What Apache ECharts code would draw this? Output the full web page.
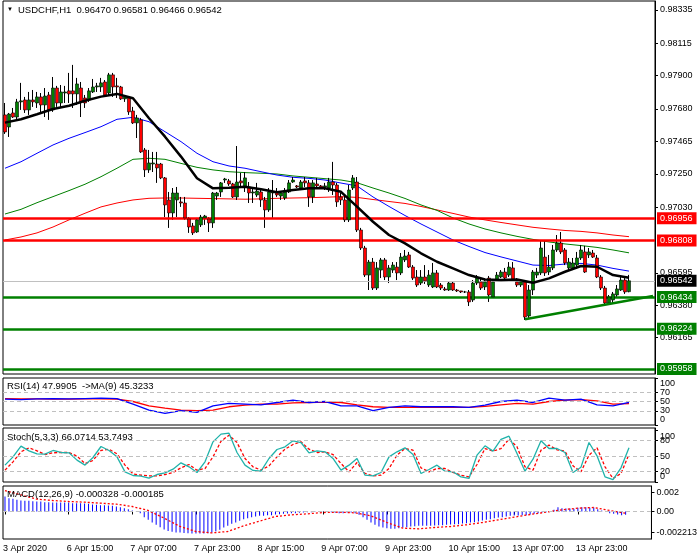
<!DOCTYPE html>
<html><head><meta charset="utf-8">
<script src="https://cdn.jsdelivr.net/npm/echarts@6/dist/echarts.min.js"></script>
<style>html,body{margin:0;padding:0;background:#fff}#c{width:700px;height:560px}</style>
</head><body><div id="c"></div>
<script>
// ---------- DATA ----------
const symbolText = 'USDCHF,H1';
const headerOHLC = ['0.96470', '0.96581', '0.96466', '0.96542'];
const tickLabels = ['3 Apr 2020', '6 Apr 15:00', '7 Apr 07:00', '7 Apr 23:00', '8 Apr 15:00', '9 Apr 07:00', '9 Apr 23:00', '10 Apr 15:00', '13 Apr 07:00', '13 Apr 23:00'];
const tickEvery = 16;
const priceTicks = [0.98335, 0.98115, 0.97900, 0.97680, 0.97465, 0.97250, 0.97030, 0.96595, 0.96380, 0.96165];

const opens = [0.97640,0.97560,0.97653,0.97626,0.97726,0.97739,0.97673,0.97739,0.97719,0.97759,
0.97706,0.97772,0.97673,0.97818,0.97719,0.97785,0.97799,0.97799,0.97779,0.97818,
0.97752,0.97739,0.97792,0.97825,0.97825,0.97858,0.97785,0.97905,0.97832,0.97825,
0.97746,0.97752,0.97666,0.97587,0.97607,0.97408,0.97276,0.97315,0.97315,0.97315,
0.97223,0.97077,0.96991,0.97077,0.97064,0.97057,0.96951,0.96905,0.96865,0.96912,
0.96958,0.96951,0.96925,0.97103,0.97130,0.97209,0.97203,0.97183,0.97097,0.97203,
0.97163,0.97163,0.97123,0.97110,0.97130,0.97077,0.97011,0.97123,0.97130,0.97103,
0.97090,0.97130,0.97196,0.97170,0.97156,0.97203,0.97190,0.97097,0.97183,0.97170,
0.97163,0.97156,0.97196,0.97176,0.97097,0.97077,0.96945,0.97156,0.97196,0.96878,
0.96759,0.96580,0.96666,0.96494,0.96613,0.96680,0.96567,0.96613,0.96633,0.96594,
0.96680,0.96713,0.96633,0.96567,0.96527,0.96567,0.96514,0.96501,0.96594,0.96514,
0.96488,0.96481,0.96527,0.96481,0.96475,0.96468,0.96468,0.96415,0.96527,0.96534,
0.96501,0.96560,0.96435,0.96547,0.96567,0.96600,0.96580,0.96627,0.96534,0.96514,
0.96534,0.96309,0.96481,0.96580,0.96594,0.96699,0.96600,0.96627,0.96746,0.96792,
0.96746,0.96627,0.96627,0.96646,0.96693,0.96733,0.96713,0.96726,0.96693,0.96567,
0.96494,0.96395,0.96415,0.96448,0.96481,0.96547,0.96470];
const highs = [0.97719,0.97653,0.97686,0.97746,0.97852,0.97759,0.97792,0.97805,0.97792,0.97785,
0.97818,0.97792,0.97891,0.97832,0.97838,0.97832,0.97918,0.97971,0.97885,0.97858,
0.97772,0.97818,0.97878,0.97852,0.97885,0.97871,0.97918,0.97918,0.97885,0.97832,
0.97765,0.97765,0.97693,0.97640,0.97620,0.97421,0.97408,0.97395,0.97395,0.97322,
0.97229,0.97130,0.97156,0.97163,0.97097,0.97097,0.96964,0.96925,0.96958,0.96978,
0.96978,0.96964,0.97130,0.97130,0.97196,0.97223,0.97216,0.97190,0.97434,0.97256,
0.97262,0.97196,0.97156,0.97190,0.97156,0.97097,0.97156,0.97209,0.97156,0.97136,
0.97156,0.97209,0.97229,0.97176,0.97209,0.97229,0.97209,0.97209,0.97223,0.97176,
0.97190,0.97223,0.97329,0.97190,0.97123,0.97110,0.97176,0.97242,0.97229,0.96892,
0.96773,0.96680,0.96693,0.96666,0.96693,0.96693,0.96646,0.96666,0.96666,0.96726,
0.96746,0.96733,0.96646,0.96613,0.96613,0.96646,0.96613,0.96660,0.96613,0.96527,
0.96501,0.96534,0.96534,0.96488,0.96475,0.96475,0.96481,0.96547,0.96580,0.96567,
0.96560,0.96574,0.96547,0.96600,0.96613,0.96627,0.96666,0.96666,0.96560,0.96547,
0.96547,0.96514,0.96613,0.96627,0.96812,0.96812,0.96713,0.96779,0.96845,0.96865,
0.96759,0.96693,0.96693,0.96733,0.96779,0.96773,0.96759,0.96746,0.96713,0.96580,
0.96508,0.96448,0.96468,0.96514,0.96567,0.96560,0.96581];
const lows = [0.97514,0.97494,0.97620,0.97613,0.97673,0.97653,0.97640,0.97693,0.97686,0.97653,
0.97626,0.97607,0.97660,0.97693,0.97693,0.97719,0.97719,0.97686,0.97706,0.97626,
0.97686,0.97726,0.97785,0.97792,0.97792,0.97759,0.97772,0.97759,0.97752,0.97739,
0.97726,0.97640,0.97580,0.97487,0.97388,0.97229,0.97256,0.97262,0.97190,0.97215,
0.96964,0.96892,0.96945,0.96964,0.97031,0.96945,0.96859,0.96845,0.96859,0.96898,
0.96912,0.96865,0.96892,0.97077,0.97097,0.97190,0.97170,0.97090,0.97077,0.97163,
0.97130,0.97057,0.97057,0.97097,0.97031,0.96892,0.96998,0.96958,0.97097,0.97077,
0.97077,0.97123,0.97190,0.97156,0.97150,0.97163,0.97031,0.97057,0.97156,0.97156,
0.97143,0.97130,0.97110,0.97031,0.97044,0.96931,0.96931,0.97143,0.96865,0.96746,
0.96567,0.96481,0.96481,0.96481,0.96560,0.96547,0.96527,0.96594,0.96547,0.96580,
0.96666,0.96627,0.96547,0.96501,0.96514,0.96521,0.96501,0.96494,0.96494,0.96481,
0.96475,0.96475,0.96475,0.96468,0.96461,0.96461,0.96375,0.96402,0.96514,0.96481,
0.96481,0.96402,0.96428,0.96534,0.96560,0.96547,0.96567,0.96534,0.96501,0.96501,
0.96283,0.96296,0.96448,0.96560,0.96580,0.96574,0.96580,0.96613,0.96733,0.96719,
0.96646,0.96613,0.96613,0.96633,0.96680,0.96594,0.96693,0.96693,0.96560,0.96481,
0.96382,0.96382,0.96395,0.96428,0.96475,0.96455,0.96466];
const closes = [0.97527,0.97646,0.97626,0.97726,0.97733,0.97673,0.97739,0.97726,0.97759,0.97706,
0.97765,0.97673,0.97818,0.97719,0.97792,0.97792,0.97779,0.97779,0.97845,0.97726,
0.97719,0.97799,0.97825,0.97832,0.97852,0.97772,0.97905,0.97825,0.97825,0.97746,
0.97759,0.97660,0.97587,0.97620,0.97395,0.97276,0.97322,0.97322,0.97289,0.97223,
0.97044,0.96991,0.97123,0.97123,0.97057,0.96958,0.96898,0.96859,0.96945,0.96964,
0.96971,0.96925,0.97123,0.97123,0.97190,0.97216,0.97183,0.97097,0.97196,0.97190,
0.97223,0.97123,0.97130,0.97136,0.97077,0.97011,0.97130,0.97130,0.97110,0.97123,
0.97130,0.97190,0.97209,0.97163,0.97196,0.97190,0.97097,0.97190,0.97170,0.97163,
0.97170,0.97196,0.97176,0.97064,0.97077,0.96945,0.97143,0.97223,0.96878,0.96759,
0.96580,0.96666,0.96494,0.96627,0.96680,0.96567,0.96627,0.96646,0.96594,0.96699,
0.96706,0.96633,0.96560,0.96514,0.96567,0.96541,0.96580,0.96594,0.96501,0.96494,
0.96481,0.96527,0.96481,0.96475,0.96468,0.96468,0.96402,0.96527,0.96560,0.96494,
0.96534,0.96448,0.96534,0.96580,0.96600,0.96560,0.96633,0.96547,0.96514,0.96534,
0.96302,0.96481,0.96600,0.96600,0.96759,0.96594,0.96633,0.96746,0.96792,0.96733,
0.96660,0.96666,0.96660,0.96693,0.96746,0.96600,0.96733,0.96699,0.96567,0.96494,
0.96395,0.96435,0.96455,0.96488,0.96547,0.96468,0.96542];

// moving averages read every 4 bars
const maStep = 4;
const maBlack = [0.97589,0.97611,0.97644,0.97679,0.97701,0.97734,0.97761,0.97779,0.97750,0.97618,
0.97496,0.97364,0.97221,0.97154,0.97158,0.97165,0.97148,0.97128,0.97143,0.97154,
0.97154,0.97131,0.97033,0.96933,0.96845,0.96790,0.96724,0.96668,0.96624,0.96580,
0.96551,0.96547,0.96551,0.96529,0.96558,0.96602,0.96640,0.96635,0.96580,0.96562];
const maBlue = [0.97287,0.97330,0.97386,0.97441,0.97485,0.97523,0.97562,0.97611,0.97624,0.97595,
0.97529,0.97463,0.97386,0.97330,0.97302,0.97287,0.97264,0.97242,0.97227,0.97220,
0.97209,0.97189,0.97170,0.97097,0.97034,0.96974,0.96918,0.96865,0.96812,0.96769,
0.96729,0.96700,0.96673,0.96646,0.96643,0.96653,0.96657,0.96646,0.96624,0.96606];
const maGreen = [0.96984,0.97015,0.97059,0.97099,0.97139,0.97181,0.97231,0.97287,0.97346,0.97353,
0.97346,0.97319,0.97293,0.97276,0.97264,0.97258,0.97254,0.97249,0.97236,0.97227,
0.97218,0.97209,0.97191,0.97156,0.97123,0.97087,0.97044,0.97008,0.96958,0.96918,
0.96885,0.96859,0.96836,0.96816,0.96799,0.96786,0.96775,0.96763,0.96746,0.96727];
const maRed = [0.96812,0.96832,0.96859,0.96898,0.96945,0.96989,0.97031,0.97057,0.97077,0.97088,
0.97090,0.97090,0.97088,0.97086,0.97084,0.97082,0.97084,0.97088,0.97090,0.97092,
0.97095,0.97099,0.97094,0.97080,0.97067,0.97054,0.97034,0.97011,0.96988,0.96964,
0.96945,0.96928,0.96912,0.96896,0.96885,0.96875,0.96869,0.96859,0.96845,0.96834];

const redLevels = [0.96956, 0.96808];
const greenLevels = [0.96434, 0.96224, 0.95958];
const lastPrice = 0.96542;
const trendIdx = [130, 162];
const trendVal = [0.96287, 0.96441];

// RSI(14) and its MA(9), every 4 bars
const rsiStep = 4;
const rsi = [54.9,54.2,55.6,56.3,55.6,56.3,57.0,56.3,44.4,31.8,24.8,30.4,26.9,40.9,45.8,44.4,43.0,47.9,52.8,47.9,
50.0,40.9,40.9,30.4,37.4,40.9,38.8,38.8,38.8,37.4,42.3,50.0,52.8,47.9,57.0,52.8,54.9,43.0,40.9,47.9905];
const rsiMa = [56.3,55.6,55.6,54.9,54.9,55.6,55.6,54.9,50.0,40.9,36.0,31.8,30.4,31.8,38.8,42.3,44.4,44.4,47.2,47.9,
48.6,47.9,43.0,38.8,37.4,37.4,37.4,37.4,37.4,37.4,39.5,43.0,45.8,44.4,50.0,52.8,54.2,51.4,44.4,45.3233];
const rsiLevels = [30, 50, 70];
const rsiEnds = [0, 100];

// Stochastic(5,3,3), every 2 bars
const stochStep = 2;
const stochK = [32.6,48.7,69.4,60.3,54.5,53.9,61.0,57.1,56.5,42.3,32.6,47.4,68.7,61.0,48.7,19.7,12.6,11.3,7.4,14.5,
17.8,24.8,37.1,29.4,18.4,39.0,77.7,92.6,94.5,57.1,32.6,22.3,21.0,45.5,62.9,68.1,79.7,76.4,56.5,60.3,
58.4,45.5,22.9,32.6,45.5,13.2,11.9,18.4,48.7,58.4,66.1,53.2,16.5,24.2,32.6,21.0,19.7,10.0,6.8,51.9,
70.0,59.7,82.3,88.7,55.2,21.0,44.2,79.7,64.8,64.8,57.1,18.4,28.7,76.4,50.6,10.0,4.8,27.4,66.0714];
const stochD = [22.9,39.0,58.4,66.1,60.3,53.2,56.5,57.1,57.1,50.0,35.8,41.6,61.0,63.5,54.5,32.6,15.8,13.2,11.9,11.9,
14.5,18.4,27.4,33.9,22.9,26.1,48.7,79.0,90.6,76.4,45.5,29.4,22.9,31.3,48.7,63.5,72.6,77.7,63.5,57.1,
58.4,53.2,35.8,19.7,37.7,16.5,11.9,13.2,26.1,51.9,64.8,61.6,27.4,19.7,26.1,26.1,18.4,13.2,10.0,33.9,
64.8,59.7,64.8,82.9,68.1,29.4,22.9,61.6,71.3,62.3,59.7,31.3,19.7,51.9,66.1,29.4,6.8,16.5,53.7493];
const stochLevels = [20, 50, 80];
const stochEnds = [0, 100];

// MACD(12,26,9): main per bar, signal every 4 bars
const macdMain = [0.001562,0.001388,0.001319,0.001215,0.001145,0.001110,0.001110,0.001076,0.001041,0.001041,
0.000972,0.000972,0.000937,0.000937,0.000937,0.000937,0.000937,0.000868,0.000868,0.000868,
0.000833,0.000798,0.000729,0.000694,0.000659,0.000659,0.000625,0.000590,0.000521,0.000451,
0.000347,0.000243,0.000104,0.000020,-0.000174,-0.000590,-0.000868,-0.001145,-0.001388,-0.001631,
-0.001880,-0.002020,-0.002120,-0.002180,-0.002200,-0.002240,-0.002260,-0.002290,-0.002290,-0.002290,
-0.002290,-0.002260,-0.002200,-0.002060,-0.001890,-0.001666,-0.001492,-0.001284,-0.001145,-0.000972,
-0.000798,-0.000694,-0.000590,-0.000521,-0.000451,-0.000451,-0.000382,-0.000382,-0.000312,-0.000278,
-0.000243,-0.000208,-0.000174,-0.000174,-0.000139,-0.000104,-0.000069,-0.000069,-0.000035,-0.000035,
-0.000035,-0.000035,-0.000069,-0.000139,-0.000174,-0.000174,-0.000104,-0.000104,-0.000174,-0.000347,
-0.000590,-0.000868,-0.001145,-0.001388,-0.001562,-0.001666,-0.001735,-0.001804,-0.001804,-0.001735,
-0.001666,-0.001631,-0.001562,-0.001527,-0.001492,-0.001492,-0.001492,-0.001492,-0.001457,-0.001423,
-0.001423,-0.001388,-0.001353,-0.001319,-0.001319,-0.001249,-0.001215,-0.001145,-0.001110,-0.001041,
-0.000937,-0.000868,-0.000798,-0.000694,-0.000625,-0.000590,-0.000521,-0.000451,-0.000416,-0.000416,
-0.000382,-0.000382,-0.000312,-0.000243,-0.000174,-0.000104,-0.000069,-0.000035,0.000174,0.000451,
0.000347,0.000312,0.000312,0.000278,0.000382,0.000451,0.000451,0.000382,0.000416,0.000243,
0.000104,-0.000035,-0.000174,-0.000243,-0.000312,-0.000382,-0.000328];
const macdStep = 4;
const macdSignal = [0.002186,0.001735,0.001284,0.001145,0.001041,0.000972,0.000868,0.000763,0.000521,0.000104,
-0.000694,-0.001562,-0.002082,-0.002230,-0.002082,-0.001492,-0.001000,-0.000521,-0.000347,-0.000243,
-0.000104,-0.000069,-0.000139,-0.000451,-0.001145,-0.001735,-0.001804,-0.001666,-0.001562,-0.001388,
-0.001145,-0.000868,-0.000590,-0.000312,-0.000069,0.000174,0.000347,0.000416,0.000104,-0.000185];
const macdTicks = [-0.002213, 0, 0.002];
const macdTickText = ['-0.002213', '0.00', '0.002'];

// indicator header read-outs
const rsiHeader = ['47.9905', '45.3233'];
const stochHeader = ['66.0714', '53.7493'];
const macdHeader = ['-0.000328', '-0.000185'];

// ---------- BUILD ----------
const N_CAT = 163;
const cats = Array.from({length: N_CAT}, (_, i) => String(i));
function spread(arr, step) {
  const out = new Array(N_CAT).fill(null);
  arr.forEach((v, i) => { out[i * step] = v; });
  return out;
}
function placeAt(idx, vals) {
  const out = new Array(N_CAT).fill(null);
  idx.forEach((k, i) => { out[k] = vals[i]; });
  return out;
}
const FONT = 'Liberation Sans';
const L = 3, W = 652;
const G = [
  {top: 1, height: 373},
  {top: 378, height: 47},
  {top: 428, height: 54},
  {top: 486, height: 53}
];
const grids = G.map(g => ({left: L, width: W, top: g.top, height: g.height,
  show: true, borderColor: '#000', borderWidth: 1, backgroundColor: 'transparent'}));

const isTick = (i) => i % tickEvery === 0 && (i / tickEvery) < tickLabels.length;
const xAxes = grids.map((g, gi) => ({
  type: 'category', gridIndex: gi, data: cats, boundaryGap: true,
  axisLine: {show: false},
  axisTick: gi === 3 ? {show: true, interval: (i) => isTick(i), alignWithLabel: true, length: 3, lineStyle: {color: '#000'}} : {show: false},
  axisLabel: gi === 3 ? {
    show: true, interval: (i) => isTick(i), align: 'left', margin: 5, fontSize: 9, fontFamily: FONT, color: '#000',
    padding: [0, 0, 0, -2],
    formatter: (v, i) => tickLabels[Math.round(i / tickEvery)]
  } : {show: false},
  splitLine: {show: false}
}));

const RSI_MIN = 0, RSI_MAX = 100, ST_MIN = 0, ST_MAX = 104.5;
// MT4 draws the 0/100 labels of a sub-window just inside the window (about 6 px inward)
function inward(vals, gi, min, max) {
  const pxPer = G[gi].height / (max - min);
  return vals.map(t => t >= 100 ? t - 6 / pxPer : t + 5.5 / pxPer);
}
const rsiEndPos = inward(rsiEnds, 1, RSI_MIN, RSI_MAX);
const stochEndPos = inward(stochEnds, 2, ST_MIN, ST_MAX);

const lab = {margin: 5, fontSize: 9, fontFamily: FONT, color: '#000', showMinLabel: true, showMaxLabel: true, hideOverlap: false};
const tick = (vals) => ({show: true, length: 3, customValues: vals, lineStyle: {color: '#000'}});
const nearest = (vals, texts) => (v => { let b = 0; vals.forEach((t, i) => { if (Math.abs(t - v) < Math.abs(vals[b] - v)) b = i; }); return texts[b]; });
const yAxes = [
  {gridIndex: 0, min: 0.95925, max: 0.98394, axisTick: tick(priceTicks),
    axisLabel: Object.assign({customValues: priceTicks, formatter: v => v.toFixed(5)}, lab)},
  {gridIndex: 1, min: RSI_MIN, max: RSI_MAX, axisTick: tick(rsiEnds.concat(rsiLevels)),
    axisLabel: Object.assign({customValues: rsiLevels, formatter: v => String(Math.round(v))}, lab)},
  {gridIndex: 2, min: ST_MIN, max: ST_MAX, axisTick: tick(stochEnds.concat(stochLevels)),
    axisLabel: Object.assign({customValues: stochLevels, formatter: v => String(Math.round(v))}, lab)},
  {gridIndex: 3, min: -0.002865, max: 0.002656, axisTick: tick(macdTicks),
    axisLabel: Object.assign({customValues: macdTicks, formatter: nearest(macdTicks, macdTickText)}, lab)},
  // extra label-only axes for the 0 / 100 read-outs
  {gridIndex: 1, min: RSI_MIN, max: RSI_MAX, axisLine: {show: false}, axisTick: {show: false},
    axisLabel: Object.assign({customValues: rsiEndPos, formatter: nearest(rsiEndPos, rsiEnds.map(String))}, lab)},
  {gridIndex: 2, min: ST_MIN, max: ST_MAX, axisLine: {show: false}, axisTick: {show: false},
    axisLabel: Object.assign({customValues: stochEndPos, formatter: nearest(stochEndPos, stochEnds.map(String))}, lab)}
].map(a => Object.assign({type: 'value', position: 'right', axisLine: {show: true, lineStyle: {color: '#000'}}, splitLine: {show: false}}, a));

function levelLine(v, color, width, bg) {
  return {yAxis: v, lineStyle: {color: color, width: width, type: 'solid'},
    label: {show: true, position: 'end', distance: 2, color: '#fff', backgroundColor: bg,
      fontSize: 9, fontFamily: FONT, lineHeight: 10, padding: [1, 4, 1, 3], formatter: () => v.toFixed(5)}};
}
function dashLevels(vals) {
  return {symbol: ['none', 'none'], silent: true, animation: false, label: {show: false}, precision: 6,
    lineStyle: {color: '#c0c0c0', type: [4, 3], width: 1},
    data: vals.map(v => ({yAxis: v}))};
}
function lineS(xi, data, color, width, z, type) {
  return {type: 'line', xAxisIndex: xi, yAxisIndex: xi, data: data, connectNulls: true, showSymbol: false, symbol: 'none',
    silent: true, animation: false, z: z || 3, lineStyle: {color: color, width: width, type: type || 'solid'}};
}

const GREEN = '#008000', RED = '#ff0000';
const series = [
  // wicks (black)
  {type: 'candlestick', xAxisIndex: 0, yAxisIndex: 0, barWidth: 1, z: 4, silent: true, animation: false,
   data: opens.map((o, i) => [o, closes[i], lows[i], highs[i]]),
   itemStyle: {color: '#000', color0: '#000', borderColor: '#000', borderColor0: '#000', borderWidth: 1}},
  // bodies
  {type: 'candlestick', xAxisIndex: 0, yAxisIndex: 0, barWidth: 3, z: 5, silent: true, animation: false,
   data: opens.map((o, i) => [o, closes[i], Math.min(o, closes[i]), Math.max(o, closes[i])]),
   itemStyle: {color: GREEN, color0: RED, borderColor: '#000', borderColor0: '#000', borderWidth: 0.6}},
  Object.assign(lineS(0, spread(maRed, maStep), RED, 1, 3), {
    markLine: {symbol: ['none', 'none'], silent: true, animation: false, precision: 6,
     data: [
       levelLine(lastPrice, '#c0c0c0', 1, '#000'),
       ...redLevels.map(v => levelLine(v, RED, 2.5, RED)),
       ...greenLevels.map(v => levelLine(v, GREEN, 2.5, GREEN))
     ]}}),
  lineS(0, spread(maGreen, maStep), GREEN, 1, 3),
  lineS(0, spread(maBlue, maStep), '#0000ff', 1, 3),
  lineS(0, spread(maBlack, maStep), '#000000', 2.5, 6),
  lineS(0, placeAt(trendIdx, trendVal), GREEN, 2.5, 6),
  Object.assign(lineS(1, spread(rsiMa, rsiStep), RED, 1.3, 3), {markLine: dashLevels(rsiLevels)}),
  lineS(1, spread(rsi, rsiStep), '#0000ff', 1.3, 4),
  Object.assign(lineS(2, spread(stochD, stochStep), RED, 1.3, 3, [3, 2]), {markLine: dashLevels(stochLevels)}),
  lineS(2, spread(stochK, stochStep), '#20b2aa', 1.3, 4),
  {type: 'bar', xAxisIndex: 3, yAxisIndex: 3, data: macdMain, barWidth: 1, silent: true, animation: false,
   itemStyle: {color: '#0000ff'}, markLine: dashLevels([0])},
  lineS(3, spread(macdSignal, macdStep), RED, 1.3, 4, [2, 2])
];

const txt = (x, y, s, size) => ({type: 'text', left: x, top: y, silent: true, z: 100,
  style: {text: s, fill: '#000', fontSize: size || 9.5, fontFamily: FONT}});
const graphic = [
  txt(7, 6, '\u25BC', 6),
  txt(18, 5, symbolText + '  ' + headerOHLC.join(' ')),
  txt(7, 381, 'RSI(14) ' + rsiHeader[0] + '  ->MA(9) ' + rsiHeader[1]),
  txt(7, 432, 'Stoch(5,3,3) ' + stochHeader.join(' ')),
  txt(7, 489, 'MACD(12,26,9) ' + macdHeader.join(' '))
];

const chart = echarts.init(document.getElementById('c'), null, {renderer: 'canvas'});
chart.setOption({
  animation: false, backgroundColor: '#fff',
  grid: grids, xAxis: xAxes, yAxis: yAxes, series: series, graphic: graphic
});
</script></body></html>
